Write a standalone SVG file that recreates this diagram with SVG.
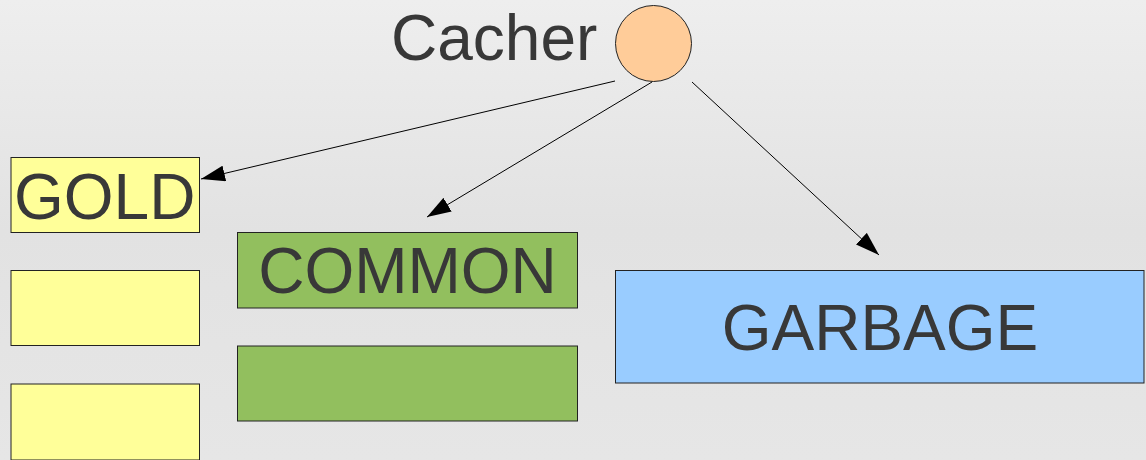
<svg xmlns="http://www.w3.org/2000/svg" width="1146" height="460" viewBox="0 0 1146 460">
  <defs>
    <linearGradient id="bg" x1="0" y1="0" x2="0" y2="1">
      <stop offset="0" stop-color="#eeeeee"/>
      <stop offset="0.5" stop-color="#e2e2e2"/>
      <stop offset="1" stop-color="#e6e6e6"/>
    </linearGradient>
    <marker id="arrow" viewBox="0 0 24 16" refX="24" refY="8" markerWidth="24" markerHeight="16" markerUnits="userSpaceOnUse" orient="auto">
      <path d="M0,0 L24,8 L0,16 Z" fill="#000"/>
    </marker>
    <style>
      .lbl { font-family: "Liberation Sans", Arial, sans-serif; font-size: 64px; fill: #383838; }
      .box { stroke: #222222; stroke-width: 1; }
      .gold { fill: #ffff99; }
      .common { fill: #92bf5e; }
      .garbage { fill: #99ccff; }
      .edge { stroke: #000; stroke-width: 1; fill: none; marker-end: url(#arrow); }
    </style>
  </defs>

  <rect width="1146" height="460" fill="url(#bg)"/>

  <g id="cacher">
    <circle cx="653.5" cy="43.5" r="38" fill="#ffcc99" stroke="#222" stroke-width="1"/>
    <text class="lbl" x="391" y="60">Cacher</text>
  </g>

  <g id="gold">
    <rect class="box gold" x="11" y="157.5" width="188.5" height="75"/>
    <text class="lbl" x="14" y="219">GOLD</text>
  </g>
  <g id="gold-2">
    <rect class="box gold" x="11" y="270.5" width="188.5" height="75"/>
  </g>
  <g id="gold-3">
    <rect class="box gold" x="11" y="384" width="188.5" height="76"/>
  </g>

  <g id="common">
    <rect class="box common" x="237.5" y="232.5" width="340" height="75.5"/>
    <text class="lbl" x="407.5" y="293" text-anchor="middle">COMMON</text>
  </g>
  <g id="common-2">
    <rect class="box common" x="237.5" y="346" width="340" height="75"/>
  </g>

  <g id="garbage">
    <rect class="box garbage" x="615.5" y="270.5" width="528.5" height="112.5"/>
    <text class="lbl" x="880" y="350" text-anchor="middle">GARBAGE</text>
  </g>

  <g id="connectors">
    <line class="edge" x1="615" y1="81" x2="201" y2="179"/>
    <line class="edge" x1="652" y1="82" x2="427" y2="217"/>
    <line class="edge" x1="692" y1="82" x2="879" y2="255"/>
  </g>
</svg>
